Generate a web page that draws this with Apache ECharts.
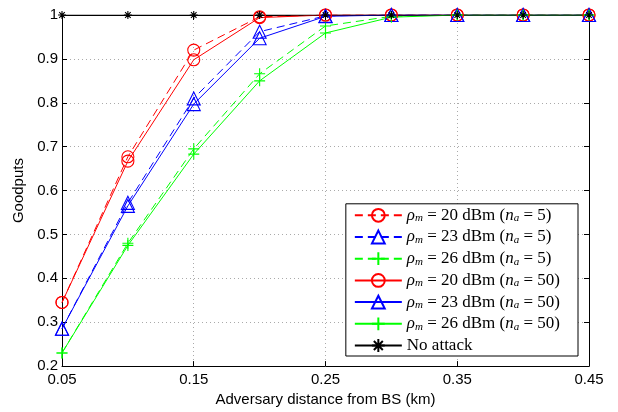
<!DOCTYPE html>
<html>
<head>
<meta charset="utf-8">
<script src="https://cdn.jsdelivr.net/npm/echarts@6/dist/echarts.min.js"></script>
<style>html,body{margin:0;padding:0;background:#fff}#c{width:618px;height:412px}</style>
</head>
<body>
<div id="c"></div>
<script>
const distances = [0.05, 0.1, 0.15, 0.2, 0.25, 0.3, 0.35, 0.4, 0.45];
const red5    = [0.345, 0.677, 0.920, 0.996, 1, 1, 1, 1, 1];
const blue5   = [0.285, 0.572, 0.810, 0.962, 0.998, 1, 1, 1, 1];
const green5  = [0.230, 0.480, 0.695, 0.866, 0.975, 0.997, 1, 1, 1];
const red50   = [0.345, 0.667, 0.898, 0.994, 1, 1, 1, 1, 1];
const blue50  = [0.285, 0.565, 0.797, 0.947, 0.997, 1, 1, 1, 1];
const green50 = [0.230, 0.475, 0.683, 0.850, 0.959, 0.995, 1, 1, 1];
const noAttack = [1, 1, 1, 1, 1, 1, 1, 1, 1];
const xTicks = [0.05, 0.15, 0.25, 0.35, 0.45];
const yTicks = [0.2, 0.3, 0.4, 0.5, 0.6, 0.7, 0.8, 0.9, 1];

const names = ['r5', 'b5', 'g5', 'r50', 'b50', 'g50', 'na'];
const legendRich = {
  r5: '{i|ρ}{s|m} = 20 dBm ({i|n}{s|a} = 5)',
  b5: '{i|ρ}{s|m} = 23 dBm ({i|n}{s|a} = 5)',
  g5: '{i|ρ}{s|m} = 26 dBm ({i|n}{s|a} = 5)',
  r50: '{i|ρ}{s|m} = 20 dBm ({i|n}{s|a} = 50)',
  b50: '{i|ρ}{s|m} = 23 dBm ({i|n}{s|a} = 50)',
  g50: '{i|ρ}{s|m} = 26 dBm ({i|n}{s|a} = 50)',
  na: '{t|No attack}'
};

const plusPath = 'path://M5,0L5,10M0,5L10,5';
const starPath = 'path://M5,0L5,10M0,5L10,5M1.5,1.5L8.5,8.5M1.5,8.5L8.5,1.5';

function mk(name, vals, color, dashed, symbol, size, z) {
  return {
    name: name,
    type: 'line',
    z: z,
    data: distances.map((d, i) => [d, vals[i]]),
    symbol: symbol,
    symbolSize: size,
    showAllSymbol: true,
    lineStyle: { color: color, width: 1, type: dashed ? [8, 5] : 'solid' },
    itemStyle: { color: 'transparent', borderColor: color, borderWidth: 1.1 },
    emphasis: { disabled: true },
    animation: false
  };
}

const chart = echarts.init(document.getElementById('c'), null, { renderer: 'canvas' });
const axisFont = { fontFamily: 'Liberation Sans, Arial, sans-serif', fontSize: 15, color: '#000' };
const serif = 'Liberation Serif, DejaVu Serif, serif';
chart.setOption({
  backgroundColor: '#fff',
  animation: false,
  grid: { left: 62, right: 29, top: 15, bottom: 43, containLabel: false },
  xAxis: [{
    type: 'value', min: 0.05, max: 0.45, interval: 0.1,
    name: 'Adversary distance from BS (km)', nameLocation: 'middle', nameGap: 23,
    nameTextStyle: axisFont,
    axisLine: { onZero: false, lineStyle: { color: '#000', width: 1 } },
    axisTick: { inside: true, length: 5, lineStyle: { color: '#000' } },
    axisLabel: Object.assign({ margin: 6, formatter: v => { const t = xTicks.find(t => Math.abs(t - v) < 1e-6); return t === undefined ? '' : t.toFixed(2); } }, axisFont),
    splitLine: { show: true, lineStyle: { color: '#aaa', type: [1, 3], width: 1 } }
  }, {
    type: 'value', min: 0.05, max: 0.45, interval: 0.1, position: 'top',
    axisLine: { onZero: false, lineStyle: { color: '#000', width: 1 } },
    axisTick: { inside: true, length: 5, lineStyle: { color: '#000' } },
    axisLabel: { show: false }, splitLine: { show: false }
  }],
  yAxis: [{
    type: 'value', min: 0.2, max: 1, interval: 0.1,
    name: 'Goodputs', nameLocation: 'middle', nameGap: 34, nameRotate: 90,
    nameTextStyle: axisFont,
    axisLine: { show: true, onZero: false, lineStyle: { color: '#000', width: 1 } },
    axisTick: { show: true, inside: true, length: 5, lineStyle: { color: '#000' } },
    axisLabel: Object.assign({ margin: 4, formatter: v => { const t = yTicks.find(t => Math.abs(t - v) < 1e-6); return t === undefined ? '' : (t === 1 ? '1' : t.toFixed(1)); } }, axisFont),
    splitLine: { show: true, lineStyle: { color: '#aaa', type: [1, 3], width: 1 } }
  }, {
    type: 'value', min: 0.2, max: 1, interval: 0.1, position: 'right',
    axisLine: { show: true, onZero: false, lineStyle: { color: '#000', width: 1 } },
    axisTick: { show: true, inside: true, length: 5, lineStyle: { color: '#000' } },
    axisLabel: { show: false }, splitLine: { show: false }
  }],
  legend: {
    orient: 'vertical', right: 40, bottom: 56,
    backgroundColor: '#fff', borderColor: '#000', borderWidth: 1,
    padding: [3, 18, 2, 8], itemGap: 4.7, itemWidth: 47, itemHeight: 16,
    data: names,
    formatter: n => legendRich[n],
    textStyle: {
      fontFamily: serif, fontSize: 17, color: '#000', lineHeight: 16,
      rich: {
        t: { fontFamily: serif, fontSize: 17, color: '#000', lineHeight: 16 },
        i: { fontFamily: serif, fontStyle: 'italic', fontSize: 17, color: '#000', lineHeight: 16 },
        s: { fontFamily: serif, fontStyle: 'italic', fontSize: 11, color: '#000', lineHeight: 10, padding: [6, 0, 0, 0] }
      }
    }
  },
  series: [
    mk('r5', red5, '#ff0000', true, 'circle', 12, 2),
    mk('b5', blue5, '#0000ff', true, 'triangle', 13, 2),
    mk('g5', green5, '#00ff00', true, plusPath, 11, 2),
    mk('r50', red50, '#ff0000', false, 'circle', 12, 2),
    mk('b50', blue50, '#0000ff', false, 'triangle', 13, 2),
    mk('g50', green50, '#00ff00', false, plusPath, 11, 2),
    mk('na', noAttack, '#000000', false, starPath, 8, 2)
  ]
});
</script>
</body>
</html>
